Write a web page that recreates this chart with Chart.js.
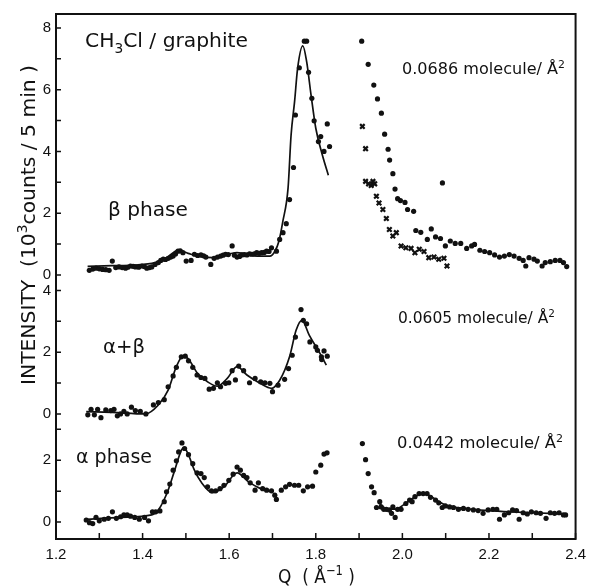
<!DOCTYPE html>
<html><head><meta charset="utf-8">
<script src="https://cdn.jsdelivr.net/npm/chart.js@4.4.1/dist/chart.umd.min.js"></script>
<style>html,body{margin:0;padding:0;background:#fff}#wrap{width:593px;height:586px}</style>
</head><body><div id="wrap"><canvas id="c" width="593" height="586"></canvas></div>
<script>
// ---- tick labels ----
const xTickLabels = [1.2, 1.4, 1.6, 1.8, 2.0, 2.2, 2.4];
const xTickMarks = [1.2, 1.3, 1.4, 1.5, 1.6, 1.7, 1.8, 1.9, 2.0, 2.1, 2.2, 2.3, 2.4];
const betaTicks = [0, 1, 2, 3, 4, 5, 6, 7, 8];
const betaTickLabels = [0, 2, 4, 6, 8];
const mixTicks = [0, 1, 2, 3, 4];
const mixTickLabels = [0, 2, 4];
const alphaTicks = [0, 1, 2, 3];
const alphaTickLabels = [0, 2];

// ---- beta phase (0.0686 molecule/A^2): [Q, intensity (10^3 counts / 5 min)] ----
const betaLeftDots = [[1.277,0.15],[1.285,0.19],[1.2925,0.22],[1.300,0.20],[1.3075,0.18],[1.315,0.17],[1.3227,0.15],[1.330,0.45],[1.338,0.24],[1.3455,0.26],[1.353,0.24],[1.3606,0.22],[1.366,0.25],[1.372,0.29],[1.378,0.28],[1.3834,0.26],[1.391,0.25],[1.3985,0.29],[1.404,0.27],[1.4098,0.22],[1.416,0.24],[1.4212,0.26],[1.4288,0.34],[1.4364,0.40],[1.442,0.47],[1.4477,0.51],[1.453,0.50],[1.4591,0.54],[1.465,0.58],[1.4705,0.61],[1.476,0.68],[1.4818,0.77],[1.487,0.78],[1.4932,0.72],[1.5007,0.45],[1.512,0.47],[1.5197,0.67],[1.527,0.63],[1.5348,0.65],[1.541,0.62],[1.5461,0.58],[1.5575,0.34],[1.5652,0.54],[1.573,0.58],[1.5803,0.61],[1.586,0.64],[1.5916,0.67],[1.598,0.66],[1.6068,0.94],[1.612,0.64],[1.6182,0.58],[1.624,0.60],[1.6295,0.65],[1.635,0.66],[1.6409,0.65],[1.647,0.68],[1.6523,0.67],[1.658,0.68],[1.6636,0.72],[1.669,0.70],[1.675,0.72],[1.681,0.73],[1.6864,0.77],[1.692,0.76],[1.6977,0.88],[1.7091,0.77],[1.7166,1.15],[1.7243,1.37],[1.7318,1.66],[1.7394,2.44],[1.7485,3.48],[1.753,5.18],[1.762,6.71],[1.7735,7.57],[1.7788,7.57],[1.7833,6.56],[1.7909,5.72],[1.7962,4.99],[1.8061,4.32],[1.8114,4.48],[1.8189,4.00],[1.8265,4.89],[1.8318,4.16]];
const betaFit = [[1.273,0.28],[1.33,0.30],[1.38,0.32],[1.429,0.40],[1.455,0.55],[1.482,0.80],[1.505,0.70],[1.527,0.61],[1.565,0.56],[1.618,0.72],[1.664,0.61],[1.694,0.61],[1.705,0.75],[1.715,1.10],[1.724,1.74],[1.736,2.82],[1.743,4.54],[1.751,5.61],[1.758,6.69],[1.770,7.42],[1.779,6.90],[1.789,5.83],[1.800,4.75],[1.815,3.89],[1.829,3.23]];
const betaRightDots = [[1.906,7.57],[1.921,6.82],[1.934,6.15],[1.9425,5.70],[1.9515,5.24],[1.959,4.56],[1.967,4.07],[1.9705,3.72],[1.978,3.28],[1.983,2.78],[1.989,2.47],[1.9955,2.41],[2.006,2.35],[2.012,2.12],[2.026,2.06],[2.031,1.44],[2.0425,1.38],[2.0576,1.15],[2.0667,1.49],[2.0766,1.23],[2.088,1.18],[2.0925,2.98],[2.0993,0.94],[2.1107,1.10],[2.122,1.02],[2.1348,1.02],[2.1485,0.86],[2.16,0.94],[2.1667,0.99],[2.179,0.80],[2.19,0.76],[2.2015,0.72],[2.213,0.65],[2.2243,0.58],[2.2356,0.61],[2.247,0.66],[2.258,0.61],[2.2697,0.54],[2.279,0.47],[2.285,0.29],[2.2925,0.56],[2.304,0.51],[2.3117,0.45],[2.3227,0.29],[2.330,0.40],[2.3416,0.43],[2.353,0.47],[2.364,0.47],[2.372,0.40],[2.3795,0.27]];
const betaCrosses = [[1.9076,4.81],[1.915,4.09],[1.915,3.03],[1.922,2.95],[1.928,2.90],[1.932,3.03],[1.936,2.95],[1.940,2.55],[1.946,2.33],[1.955,2.12],[1.963,1.83],[1.970,1.47],[1.978,1.26],[1.986,1.37],[1.997,0.94],[2.008,0.88],[2.020,0.86],[2.029,0.72],[2.039,0.83],[2.050,0.76],[2.061,0.56],[2.073,0.58],[2.084,0.51],[2.096,0.54],[2.103,0.29]];

// ---- alpha + beta (0.0605 molecule/A^2) ----
const mixDots = [[1.2735,-0.03],[1.281,0.15],[1.2886,-0.03],[1.2962,0.15],[1.3038,-0.12],[1.315,0.13],[1.3265,0.11],[1.334,0.15],[1.3417,-0.06],[1.349,0.0],[1.3568,0.08],[1.3644,0.0],[1.3742,0.22],[1.3833,0.11],[1.3947,0.08],[1.4076,0.0],[1.425,0.29],[1.4364,0.37],[1.45,0.46],[1.459,0.88],[1.4705,1.23],[1.478,1.51],[1.4894,1.85],[1.4985,1.87],[1.506,1.72],[1.5159,1.51],[1.5258,1.26],[1.5348,1.18],[1.5439,1.15],[1.5538,0.80],[1.5636,0.83],[1.5727,1.01],[1.58,0.88],[1.5916,0.99],[1.5992,1.01],[1.6068,1.40],[1.6144,1.10],[1.622,1.55],[1.6333,1.40],[1.647,1.01],[1.6598,1.15],[1.6727,1.04],[1.6826,1.01],[1.694,0.99],[1.700,0.72],[1.7129,0.93],[1.728,1.12],[1.7371,1.47],[1.7455,1.90],[1.753,2.49],[1.7659,3.38],[1.7712,3.03],[1.7788,2.92],[1.7864,2.33],[1.8,2.17],[1.8038,2.06],[1.813,1.85],[1.8136,1.76],[1.819,2.04],[1.8265,1.87]];
const mixFit = [[1.2698,0.075],[1.33,0.05],[1.406,0.0],[1.4364,0.29],[1.459,0.77],[1.478,1.53],[1.4932,1.87],[1.5045,1.80],[1.5273,1.31],[1.55,1.04],[1.5727,0.90],[1.5955,1.15],[1.618,1.53],[1.641,1.26],[1.6712,0.99],[1.6977,0.83],[1.7167,1.09],[1.7394,1.85],[1.7545,2.71],[1.768,3.03],[1.7848,2.55],[1.8076,2.01],[1.8243,1.58]];

// ---- alpha phase (0.0442 molecule/A^2) ----
const alphaLeftDots = [[1.2698,0.065],[1.2773,-0.02],[1.2848,-0.05],[1.2924,0.15],[1.3,0.04],[1.3114,0.09],[1.321,0.12],[1.3303,0.33],[1.3394,0.12],[1.3492,0.17],[1.3568,0.23],[1.3644,0.23],[1.372,0.19],[1.3818,0.15],[1.3924,0.09],[1.4045,0.15],[1.4136,0.04],[1.4227,0.33],[1.4303,0.33],[1.44,0.36],[1.45,0.66],[1.4553,0.98],[1.4629,1.23],[1.4705,1.68],[1.478,1.98],[1.4833,2.27],[1.4909,2.56],[1.497,2.38],[1.506,2.18],[1.5159,1.89],[1.5258,1.59],[1.5348,1.57],[1.5424,1.44],[1.55,1.14],[1.559,1.01],[1.5689,1.01],[1.5788,1.08],[1.5879,1.19],[1.5992,1.35],[1.6091,1.55],[1.6182,1.78],[1.6258,1.68],[1.6333,1.51],[1.641,1.44],[1.6485,1.27],[1.6598,1.03],[1.6674,1.27],[1.6773,1.08],[1.6864,1.03],[1.6977,1.01],[1.7053,0.87],[1.709,0.73],[1.7204,1.03],[1.7303,1.14],[1.7394,1.22],[1.7508,1.19],[1.7606,1.19],[1.7712,1.01],[1.7811,1.14],[1.7924,1.16],[1.8,1.62],[1.8115,1.84],[1.819,2.20],[1.826,2.24]];
const alphaLeftFit = [[1.2698,0.09],[1.35,0.15],[1.4212,0.23],[1.4364,0.39],[1.459,1.03],[1.4742,1.68],[1.4894,2.32],[1.4955,2.41],[1.5045,2.22],[1.5197,1.68],[1.5348,1.30],[1.5614,0.95],[1.5879,1.14],[1.6182,1.59],[1.6447,1.30],[1.6712,1.09],[1.694,0.98]];
const alphaRightDots = [[1.9076,2.54],[1.915,2.02],[1.921,1.57],[1.9288,1.14],[1.9348,0.95],[1.9402,0.47],[1.9477,0.66],[1.951,0.49],[1.957,0.41],[1.963,0.41],[1.970,0.39],[1.975,0.28],[1.978,0.49],[1.9833,0.15],[1.989,0.41],[1.997,0.41],[2.008,0.60],[2.0167,0.71],[2.0225,0.66],[2.029,0.82],[2.0386,0.92],[2.048,0.92],[2.057,0.92],[2.065,0.80],[2.0766,0.71],[2.084,0.62],[2.092,0.47],[2.0993,0.52],[2.109,0.49],[2.118,0.47],[2.1295,0.41],[2.141,0.44],[2.152,0.41],[2.164,0.39],[2.175,0.37],[2.1864,0.28],[2.198,0.39],[2.2091,0.41],[2.218,0.41],[2.2243,0.09],[2.2356,0.23],[2.2455,0.30],[2.2545,0.39],[2.2636,0.37],[2.2697,0.09],[2.279,0.30],[2.2886,0.26],[2.298,0.33],[2.309,0.30],[2.3189,0.28],[2.3318,0.12],[2.3417,0.30],[2.3515,0.28],[2.362,0.30],[2.372,0.23],[2.377,0.23]];
const alphaRightFit = [[1.945,0.62],[1.965,0.42],[1.985,0.42],[2.005,0.58],[2.025,0.78],[2.045,0.90],[2.06,0.88],[2.08,0.70],[2.10,0.55],[2.15,0.43],[2.20,0.37],[2.25,0.33],[2.30,0.30],[2.38,0.26]];

// vertical stacking of the three panels on one shared y scale
const betaShift = 8, mixShift = 3.5, alphaShift = 0;

const INK = '#111';
const FONT = '"DejaVu Sans", "Liberation Sans", sans-serif';
const TICKFONT = '"Liberation Sans", Arial, sans-serif';

function pts(arr, shift) { return arr.map(p => ({ x: p[0], y: p[1] + shift })); }
function dots(arr, shift) {
  return { data: pts(arr, shift), showLine: false, pointStyle: 'circle', pointRadius: 2.6,
    pointBackgroundColor: INK, pointBorderWidth: 0, pointHoverRadius: 2.6 };
}
function crosses(arr, shift) {
  return { data: pts(arr, shift), showLine: false, pointStyle: 'crossRot', pointRadius: 3.2,
    pointBorderColor: INK, pointBorderWidth: 2.2, pointHoverRadius: 3.2 };
}
function fit(arr, shift) {
  return { data: pts(arr, shift), showLine: true, pointRadius: 0, borderColor: INK, borderWidth: 1.7,
    cubicInterpolationMode: 'monotone', fill: false };
}

const yLabelTicks = [];
alphaTickLabels.forEach(v => yLabelTicks.push({ value: v + alphaShift, label: String(v) }));
mixTickLabels.forEach(v => yLabelTicks.push({ value: v + mixShift, label: String(v) }));
betaTickLabels.forEach(v => yLabelTicks.push({ value: v + betaShift, label: String(v) }));
const yMarkValues = [].concat(alphaTicks.map(v => v + alphaShift), mixTicks.map(v => v + mixShift), betaTicks.map(v => v + betaShift));

function drawRich(ctx, segs, x, y, size, targetW, rotate) {
  ctx.save();
  const widths = segs.map(s => { ctx.font = (s.sup || s.sub ? size * 0.68 : size) + 'px ' + FONT; return ctx.measureText(s.t).width; });
  const W = widths.reduce((a, b) => a + b, 0);
  const sx = targetW ? targetW / W : 1;
  ctx.translate(x, y);
  if (rotate) ctx.rotate(-Math.PI / 2);
  ctx.scale(sx, 1);
  ctx.fillStyle = INK; ctx.textBaseline = 'alphabetic'; ctx.textAlign = 'left';
  let cx = 0;
  segs.forEach((s, i) => {
    ctx.font = (s.sup || s.sub ? size * 0.68 : size) + 'px ' + FONT;
    const dy = s.sup ? -size * 0.42 : (s.sub ? size * 0.28 : 0);
    ctx.fillText(s.t, cx, dy);
    cx += widths[i];
  });
  ctx.restore();
}

const decor = {
  id: 'decor',
  afterDraw(chart) {
    const ctx = chart.ctx, a = chart.chartArea;
    const xs = chart.scales.x, ys = chart.scales.y;
    ctx.save();
    ctx.strokeStyle = INK; ctx.lineWidth = 2;
    ctx.strokeRect(a.left, a.top, a.right - a.left, a.bottom - a.top);
    ctx.lineWidth = 1.5;
    ctx.beginPath();
    xTickMarks.forEach(v => { const px = xs.getPixelForValue(v); ctx.moveTo(px, a.bottom); ctx.lineTo(px, a.bottom - 6); });
    yMarkValues.forEach(v => { const py = ys.getPixelForValue(v); ctx.moveTo(a.left, py); ctx.lineTo(a.left + 5, py); });
    ctx.stroke();
    ctx.restore();

    drawRich(ctx, [{ t: 'CH' }, { t: '3', sub: true }, { t: 'Cl / graphite' }], 85, 47, 20, 163);
    drawRich(ctx, [{ t: 'β phase' }], 108, 216, 20, 80);
    drawRich(ctx, [{ t: 'α+β' }], 103, 353, 20, 42);
    drawRich(ctx, [{ t: 'α phase' }], 76, 463, 20, 76);
    drawRich(ctx, [{ t: '0.0686 molecule/ Å' }, { t: '2', sup: true }], 402, 74, 15, 163);
    drawRich(ctx, [{ t: '0.0605 molecule/ Å' }, { t: '2', sup: true }], 398, 323, 15, 157);
    drawRich(ctx, [{ t: '0.0442 molecule/ Å' }, { t: '2', sup: true }], 397, 448, 15, 166);
    drawRich(ctx, [{ t: 'Q  ( Å' }, { t: '−1', sup: true }, { t: ' )' }], 278, 583, 20, 77);
    drawRich(ctx, [{ t: 'INTENSITY  (10' }, { t: '3', sup: true }, { t: 'counts / 5 min )' }], 35, 385, 20, 320, true);
  }
};

new Chart(document.getElementById('c'), {
  type: 'scatter',
  data: {
    datasets: [
      dots(betaLeftDots, betaShift), fit(betaFit, betaShift), dots(betaRightDots, betaShift), crosses(betaCrosses, betaShift),
      dots(mixDots, mixShift), fit(mixFit, mixShift),
      dots(alphaLeftDots, alphaShift), fit(alphaLeftFit, alphaShift), dots(alphaRightDots, alphaShift), fit(alphaRightFit, alphaShift)
    ]
  },
  options: {
    responsive: false, animation: false, devicePixelRatio: 1,
    layout: { padding: { top: 12, right: 9, left: 0, bottom: 0 } },
    plugins: { legend: { display: false }, tooltip: { enabled: false } },
    scales: {
      x: {
        type: 'linear', min: 1.2, max: 2.4,
        grid: { display: false, drawTicks: false }, border: { display: false },
        afterBuildTicks: s => { s.ticks = xTickLabels.map(v => ({ value: v })); },
        afterFit: s => { s.height = 47; },
        ticks: { autoSkip: false, maxRotation: 0, padding: 7, color: INK, font: { family: TICKFONT, size: 15 },
          callback: v => Number(v).toFixed(1) }
      },
      y: {
        type: 'linear', min: -0.55, max: 16.45,
        grid: { display: false, drawTicks: false }, border: { display: false },
        afterBuildTicks: s => { s.ticks = yLabelTicks.map(t => ({ value: t.value })); },
        afterFit: s => { s.width = 56; },
        ticks: { autoSkip: false, padding: 5, color: INK, font: { family: TICKFONT, size: 15 },
          callback: v => { const t = yLabelTicks.find(t => Math.abs(t.value - v) < 1e-6); return t ? t.label : ''; } }
      }
    }
  },
  plugins: [decor]
});
</script></body></html>
